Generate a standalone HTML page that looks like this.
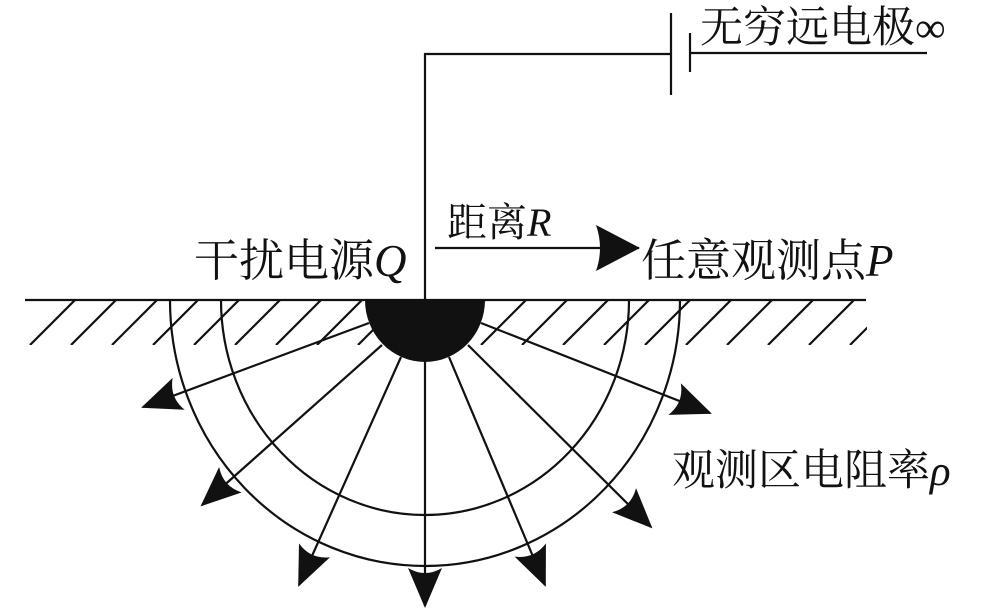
<!DOCTYPE html>
<html><head><meta charset="utf-8"><style>
body{margin:0;background:#fff}
svg text{font-family:"Liberation Serif","Noto Serif CJK SC",serif;fill:#111}
</style></head><body>
<svg width="984" height="610" viewBox="0 0 984 610" xmlns="http://www.w3.org/2000/svg">
<defs>
<clipPath id="hc"><rect x="25" y="301" width="842" height="44"/></clipPath>
<marker id="ah" viewBox="0 0 40 34" refX="38" refY="17" markerWidth="40" markerHeight="34" markerUnits="userSpaceOnUse" orient="auto">
<path d="M0,0 L40,17 L0,34 Q10,17 0,0Z" fill="#111"/>
</marker>
<marker id="ah2" viewBox="0 0 44 46" refX="43" refY="23" markerWidth="44" markerHeight="46" markerUnits="userSpaceOnUse" orient="auto">
<path d="M0,0 L44,23 L0,46 Q8,23 0,0Z" fill="#111"/>
</marker>
</defs>
<g stroke="#111" stroke-width="2.2" fill="none">
<g clip-path="url(#hc)">
<path d="M30,345 L75,300 M71,345 L116,300 M112,345 L157,300 M153,345 L198,300 M194,345 L239,300 M235,345 L280,300 M276,345 L321,300 M317,345 L362,300 M358,345 L403,300 M399,345 L444,300 M440,345 L485,300 M481,345 L526,300 M522,345 L567,300 M563,345 L608,300 M604,345 L649,300 M645,345 L690,300 M686,345 L731,300 M727,345 L772,300 M768,345 L813,300 M809,345 L854,300 M850,345 L895,300"/>
</g>
<line x1="25" y1="300" x2="866" y2="300"/>
<path d="M425,300 L425,54 L671,54"/>
<line x1="671" y1="13" x2="671" y2="95"/>
<line x1="690" y1="33" x2="690" y2="72"/>
<line x1="690" y1="53" x2="927" y2="53"/>
<path d="M221,300 A204,215 0 0 0 629,300"/>
<path d="M170,300 A255,266 0 0 0 680,300"/>
<g marker-end="url(#ah)">
<line x1="369" y1="323" x2="143" y2="407"/>
<line x1="382" y1="345" x2="202" y2="505"/>
<line x1="401" y1="357" x2="299" y2="585"/>
<line x1="425" y1="362" x2="425" y2="606"/>
<line x1="449" y1="357" x2="545" y2="585"/>
<line x1="468" y1="345" x2="651" y2="527"/>
<line x1="481" y1="323" x2="710" y2="413"/>
</g>
<line x1="435" y1="248" x2="639" y2="248" marker-end="url(#ah2)"/>
</g>
<path d="M365,300 A60,62 0 0 0 485,300 Z" fill="#111"/>
<text x="700" y="42" font-size="43">无穷远电极∞</text>
<text x="194" y="276" font-size="45">干扰电源<tspan font-style="italic">Q</tspan></text>
<text x="447" y="236" font-size="40">距离<tspan font-style="italic">R</tspan></text>
<text x="641" y="276" font-size="45">任意观测点<tspan font-style="italic">P</tspan></text>
<text x="672" y="485" font-size="43">观测区电阻率<tspan font-style="italic">ρ</tspan></text>
</svg>
</body></html>
